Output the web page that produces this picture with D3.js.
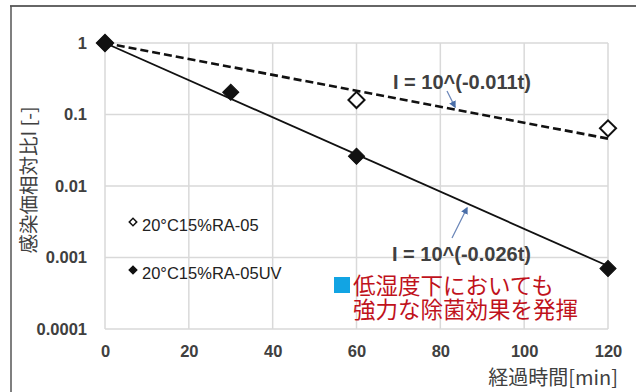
<!DOCTYPE html>
<html><head><meta charset="utf-8">
<script src="https://cdn.jsdelivr.net/npm/d3@7/dist/d3.min.js"></script>
<style>html,body{margin:0;padding:0;background:#fff;}svg{display:block;}</style>
</head><body>
<svg id="c" width="636" height="392"></svg>
<script>
// ---- data ----
const xTicks = [0, 20, 40, 60, 80, 100, 120];
const yTicks = [1, 0.1, 0.01, 0.001, 0.0001];
const yTickLabels = ["1", "0.1", "0.01", "0.001", "0.0001"];
const seriesNames = ["20°C15%RA-05", "20°C15%RA-05UV"];
const tRA05 = [0, 60, 120];
const vRA05 = [1, 0.16, 0.064];
const tUV = [0, 30, 60, 120];
const vUV = [1, 0.205, 0.026, 0.0007];
const trendT = [0, 120];
const trendRA05 = [1, 0.046];
const trendUV = [1, 0.00076];
const eqLabels = ["I = 10^(-0.011t)", "I = 10^(-0.026t)"];
const noteLines = ["低湿度下においても", "強力な除菌効果を発揮"];
const xTitle = "経過時間[min]";
const yTitle = "感染価相対比I [-]";

const svg = d3.select("#c");
const x = d3.scaleLinear().domain([0, 120]).range([105, 608]);
const y = d3.scaleLog().domain([1e-4, 1]).range([329, 43]);
const grid = "#d9d9d9", txt = "#404040";
const latin = "'Liberation Sans', Arial, sans-serif";
const cjk = "'Noto Sans CJK JP', sans-serif";

// outer frame (top + left)
svg.append("line").attr("x1", 10).attr("x2", 636).attr("y1", 6).attr("y2", 6).attr("stroke", "#333").attr("stroke-width", 1.5);
svg.append("line").attr("x1", 11).attr("x2", 11).attr("y1", 6).attr("y2", 392).attr("stroke", "#555").attr("stroke-width", 1.5);

// gridlines
svg.append("g").selectAll("line").data(yTicks).join("line")
  .attr("x1", x(0)).attr("x2", x(120)).attr("y1", d => y(d)).attr("y2", d => y(d))
  .attr("stroke", grid).attr("stroke-width", 1.5);
svg.append("g").selectAll("line").data(xTicks).join("line")
  .attr("x1", d => x(d)).attr("x2", d => x(d)).attr("y1", y(1)).attr("y2", y(1e-4))
  .attr("stroke", grid).attr("stroke-width", 1.5);

// axes (labels only)
const yAxis = d3.axisLeft(y).tickValues(yTicks).tickFormat((d, i) => yTickLabels[i]).tickSize(0).tickPadding(18);
const gy = svg.append("g").attr("transform", `translate(${x(0)},0)`).call(yAxis);
gy.select(".domain").remove();
gy.selectAll("text").attr("font-family", latin).attr("font-size", 16.5).attr("font-weight", "bold").attr("fill", txt);

const xAxis = d3.axisBottom(x).tickValues(xTicks).tickSize(0).tickPadding(16);
const gx = svg.append("g").attr("transform", `translate(0,${y(1e-4)})`).call(xAxis);
gx.select(".domain").remove();
gx.selectAll("text").attr("font-family", latin).attr("font-size", 16.5).attr("font-weight", "bold").attr("fill", txt);

// axis titles
svg.append("text").attr("x", 618).attr("y", 385).attr("text-anchor", "end")
  .attr("font-family", cjk).attr("font-size", 20).attr("fill", txt).text(xTitle);
svg.append("text").attr("transform", "translate(36,180) rotate(-90)").attr("text-anchor", "middle")
  .attr("font-family", cjk).attr("font-size", 19.5).attr("fill", txt).text(yTitle);

// trend lines
const line = d3.line().x(d => x(d[0])).y(d => y(d[1]));
svg.append("path").attr("d", line(trendT.map((t, i) => [t, trendRA05[i]])))
  .attr("fill", "none").attr("stroke", "#111").attr("stroke-width", 2.6).attr("stroke-dasharray", "8,4");
svg.append("path").attr("d", line(trendT.map((t, i) => [t, trendUV[i]])))
  .attr("fill", "none").attr("stroke", "#111").attr("stroke-width", 1.8);

// markers
const diamond = d3.symbol(d3.symbolSquare, 130);
svg.append("g").selectAll("path").data(tRA05.map((t, i) => [t, vRA05[i]])).join("path")
  .attr("d", diamond).attr("transform", d => `translate(${x(d[0])},${y(d[1])}) rotate(45)`)
  .attr("fill", "#fff").attr("stroke", "#111").attr("stroke-width", 2);
svg.append("g").selectAll("path").data(tUV.map((t, i) => [t, vUV[i]])).join("path")
  .attr("d", diamond).attr("transform", d => `translate(${x(d[0])},${y(d[1])}) rotate(45)`)
  .attr("fill", "#111").attr("stroke", "#111").attr("stroke-width", 1);

// legend
const small = d3.symbol(d3.symbolSquare, 28);
const leg = svg.append("g").selectAll("g").data(seriesNames).join("g")
  .attr("transform", (d, i) => `translate(133,${222 + i * 48})`);
leg.append("path").attr("d", small).attr("transform", "rotate(45)")
  .attr("fill", (d, i) => i === 0 ? "#fff" : "#111").attr("stroke", "#111").attr("stroke-width", 1.5);
leg.append("text").attr("x", 9).attr("y", 9).attr("font-family", latin).attr("font-size", 16.5).attr("fill", "#222").text(d => d);

// equation labels
const eqPos = [[393, 89], [392, 261]];
svg.append("g").selectAll("text").data(eqLabels).join("text")
  .attr("x", (d, i) => eqPos[i][0]).attr("y", (d, i) => eqPos[i][1])
  .attr("font-family", latin).attr("font-size", 20).attr("font-weight", "bold").attr("fill", txt).text(d => d);

// arrows
const defs = svg.append("defs");
defs.append("marker").attr("id", "ah").attr("viewBox", "0 0 10 10").attr("refX", 8).attr("refY", 5)
  .attr("markerWidth", 6).attr("markerHeight", 6).attr("orient", "auto")
  .append("path").attr("d", "M0,0L10,5L0,10z").attr("fill", "#4a6ea8");
const arrows = [[447, 91, 455, 107], [452, 238, 467, 208]];
svg.append("g").selectAll("line").data(arrows).join("line")
  .attr("x1", d => d[0]).attr("y1", d => d[1]).attr("x2", d => d[2]).attr("y2", d => d[3])
  .attr("stroke", "#6b86b8").attr("stroke-width", 1.2).attr("marker-end", "url(#ah)");

// note (one text block, two lines)
svg.append("rect").attr("x", 334).attr("y", 277).attr("width", 16).attr("height", 16).attr("fill", "#12a4e3");
const note = svg.append("text").attr("font-family", cjk).attr("font-size", 22.5).attr("fill", "#c0121c");
note.selectAll("tspan").data(noteLines).join("tspan")
  .attr("x", 353).attr("y", (d, i) => 294 + i * 24).text(d => d);
</script>
</body></html>
